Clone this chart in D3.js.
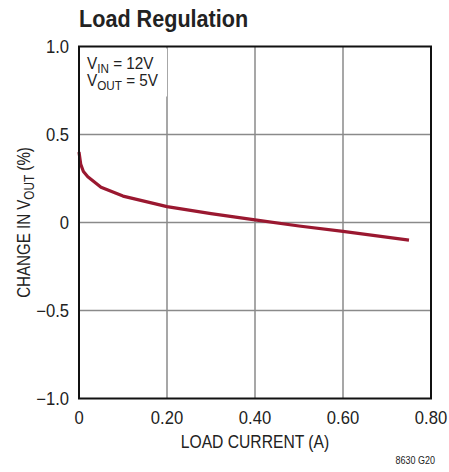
<!DOCTYPE html>
<html>
<head>
<meta charset="utf-8">
<script src="https://cdn.jsdelivr.net/npm/d3@7"></script>
<style>
  body { margin: 0; background: #fff; }
  text { font-family: "Liberation Sans", Arial, sans-serif; fill: #222; }
</style>
</head>
<body>
<div id="chart"></div>
<script>
// load current (A) vs change in Vout (%)
const loadCurrent = [0, 0.004, 0.01, 0.02, 0.05, 0.1, 0.2, 0.3, 0.4, 0.5, 0.6, 0.75];
const changeVout = [0.40, 0.33, 0.29, 0.26, 0.20, 0.15, 0.09, 0.05, 0.015, -0.02, -0.05, -0.10];
const xTicks = [0, 0.2, 0.4, 0.6, 0.8];
const xTickLabels = ["0", "0.20", "0.40", "0.60", "0.80"];
const yTicks = [-1, -0.5, 0, 0.5, 1];
const yTickLabels = ["\u22121.0", "\u22120.5", "0", "0.5", "1.0"];

const width = 449, height = 472;
const margin = { top: 46.5, right: 18, bottom: 73.5, left: 79 };
const boundedWidth = width - margin.left - margin.right;
const boundedHeight = height - margin.top - margin.bottom;

const svg = d3.select("#chart").append("svg")
    .attr("width", width)
    .attr("height", height);

// no narrow font available, so squeeze text horizontally
function narrowText(parent, x, y, sx, rot) {
  return parent.append("text")
    .attr("transform", `translate(${x},${y})` + (rot ? ` rotate(${rot})` : "") + ` scale(${sx},1)`);
}

const bounds = svg.append("g")
    .attr("transform", `translate(${margin.left},${margin.top})`);

const xScale = d3.scaleLinear().domain([0, 0.8]).range([0, boundedWidth]);
const yScale = d3.scaleLinear().domain([-1, 1]).range([boundedHeight, 0]);

// grid
bounds.append("g")
  .selectAll("line")
  .data(xTicks.slice(1, -1))
  .enter().append("line")
    .attr("x1", d => xScale(d)).attr("x2", d => xScale(d))
    .attr("y1", 0).attr("y2", boundedHeight)
    .attr("stroke", "#8a8a8a").attr("stroke-width", 1.5);

bounds.append("g")
  .selectAll("line")
  .data(yTicks.slice(1, -1))
  .enter().append("line")
    .attr("x1", 0).attr("x2", boundedWidth)
    .attr("y1", d => yScale(d)).attr("y2", d => yScale(d))
    .attr("stroke", "#8a8a8a").attr("stroke-width", 1.5);

// condition label box (hides grid behind it)
bounds.append("rect")
  .attr("x", 1.5).attr("y", 2).attr("width", 86.5).attr("height", 48)
  .attr("fill", "#fff");

const t1 = narrowText(bounds, 8, 22, 0.9, 0).attr("font-size", 17);
t1.append("tspan").text("V");
t1.append("tspan").attr("font-size", 13).attr("dy", 4).text("IN");
t1.append("tspan").attr("dy", -4).text(" = 12V");
const t2 = narrowText(bounds, 8, 39.5, 0.9, 0).attr("font-size", 17);
t2.append("tspan").text("V");
t2.append("tspan").attr("font-size", 13).attr("dy", 4).text("OUT");
t2.append("tspan").attr("dy", -4).text(" = 5V");

// curve
const line = d3.line()
  .x((d, i) => xScale(loadCurrent[i]))
  .y(d => yScale(d));

bounds.append("path")
  .datum(changeVout)
  .attr("d", line)
  .attr("fill", "none")
  .attr("stroke", "#9a1830")
  .attr("stroke-width", 3.2)
  .attr("stroke-linejoin", "round");

// frame
bounds.append("rect")
  .attr("x", 0).attr("y", 0)
  .attr("width", boundedWidth).attr("height", boundedHeight)
  .attr("fill", "none").attr("stroke", "#111").attr("stroke-width", 2);

// tick labels
xTicks.forEach((d, i) => {
  narrowText(bounds, xScale(d), boundedHeight + 25, 0.95, 0)
    .attr("text-anchor", "middle")
    .attr("font-size", 17.5)
    .text(xTickLabels[i]);
});

yTicks.forEach((d, i) => {
  narrowText(bounds, -10, yScale(d) + 6.5, 0.95, 0)
    .attr("text-anchor", "end")
    .attr("font-size", 17.5)
    .text(yTickLabels[i]);
});

// axis titles
narrowText(svg, margin.left + boundedWidth / 2, 447.5, 0.87, 0)
  .attr("text-anchor", "middle")
  .attr("font-size", 18)
  .text("LOAD CURRENT (A)");

const yl = narrowText(svg, 29.5, margin.top + boundedHeight / 2, 0.84, -90)
  .attr("text-anchor", "middle")
  .attr("font-size", 18);
yl.append("tspan").text("CHANGE IN V");
yl.append("tspan").attr("font-size", 14).attr("dy", 4).text("OUT");
yl.append("tspan").attr("dy", -4).text(" (%)");

narrowText(svg, margin.left, 27, 0.9, 0)
  .attr("font-size", 24)
  .attr("font-weight", "bold")
  .text("Load Regulation");

narrowText(svg, 435, 464, 0.9, 0)
  .attr("text-anchor", "end")
  .attr("font-size", 10)
  .text("8630 G20");
</script>
</body>
</html>
